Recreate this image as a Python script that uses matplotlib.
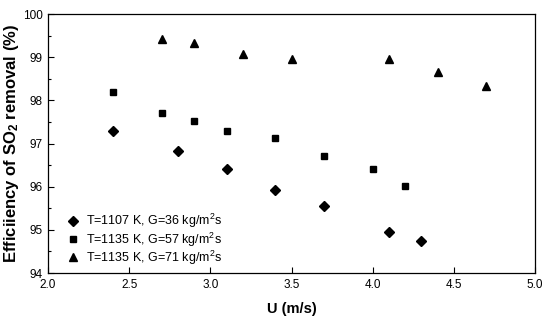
import matplotlib
matplotlib.use("Agg")
import matplotlib.pyplot as plt
from matplotlib.ticker import MultipleLocator

plt.rcParams['font.family'] = ['Liberation Sans', 'DejaVu Sans']
plt.rcParams['mathtext.fontset'] = 'custom'
plt.rcParams['mathtext.rm'] = 'Liberation Sans'
plt.rcParams['mathtext.bf'] = 'Liberation Sans:bold'

u1 = [2.4, 2.8, 3.1, 3.4, 3.7, 4.1, 4.3]
e1 = [97.3, 96.82, 96.42, 95.92, 95.55, 94.95, 94.73]
u2 = [2.4, 2.7, 2.9, 3.1, 3.4, 3.7, 4.0, 4.2]
e2 = [98.2, 97.7, 97.52, 97.3, 97.12, 96.72, 96.42, 96.02]
u3 = [2.7, 2.9, 3.2, 3.5, 4.1, 4.4, 4.7]
e3 = [99.42, 99.33, 99.07, 98.95, 98.95, 98.65, 98.33]
labels = ['T=1107 K, G=36 kg/m$\\mathregular{^2}$s',
          'T=1135 K, G=57 kg/m$\\mathregular{^2}$s',
          'T=1135 K, G=71 kg/m$\\mathregular{^2}$s']

fig = plt.figure(figsize=(5.5, 3.23), dpi=100)
ax = fig.add_axes([48/550, 1-273/323, (535-48)/550, (273-14)/323])
ax.plot(u1, e1, 'kD', ms=5, ls='none', label=labels[0])
ax.plot(u2, e2, 'ks', ms=5, ls='none', label=labels[1])
ax.plot(u3, e3, 'k^', ms=6, ls='none', label=labels[2])
ax.set_xlim(2.0, 5.0)
ax.set_ylim(94, 100)
ax.xaxis.set_major_locator(MultipleLocator(0.5))
ax.yaxis.set_major_locator(MultipleLocator(1))
ax.yaxis.set_minor_locator(MultipleLocator(0.5))
ax.xaxis.set_major_formatter(matplotlib.ticker.FormatStrFormatter('%.1f'))
ax.tick_params(direction='in', labelsize=8.5, length=4, width=0.8, pad=4)
ax.tick_params(which='minor', direction='in', length=2.5, width=0.8)
for s in ax.spines.values():
    s.set_linewidth(0.9)
ax.set_xlabel('U (m/s)', fontsize=10.5, fontweight='bold', labelpad=8)
ax.set_ylabel('Efficiiency of SO$\\mathbf{_2}$ removal (%)', fontsize=12, fontweight='bold', labelpad=1)
leg = ax.legend(loc='lower left', frameon=False, fontsize=9, handletextpad=0.5,
                borderaxespad=0.2, labelspacing=0.0, handlelength=1.2,
                bbox_to_anchor=(0.02, -0.005))
fig.savefig('out.png', dpi=100)
